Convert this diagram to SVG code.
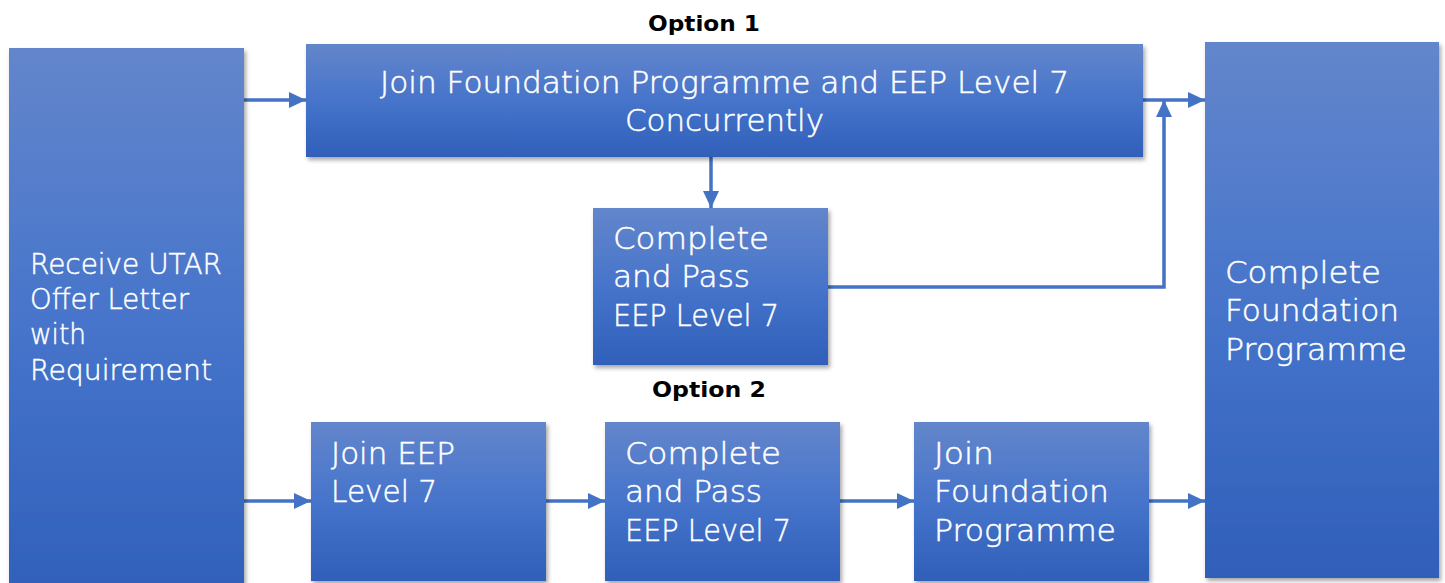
<svg xmlns="http://www.w3.org/2000/svg" width="1445" height="583" viewBox="0 0 1445 583">
<style>
.box{fill:url(#g);filter:url(#sh)}
.t{font-family:"DejaVu Sans","Liberation Sans",sans-serif;font-weight:200;fill:#ffffff;stroke:#ffffff;stroke-width:0.5;font-size:30px}
.t28{font-size:28px}
.opt{font-family:"DejaVu Sans","Liberation Sans",sans-serif;font-weight:bold;font-size:22px;fill:#000000;text-anchor:middle}
.c{fill:none;stroke:#4472c4;stroke-width:3.5}
</style>
<defs>
<linearGradient id="g" x1="0" y1="0" x2="0" y2="1">
<stop offset="0" stop-color="#6386cb"/>
<stop offset="0.5" stop-color="#4674cb"/>
<stop offset="1" stop-color="#2f5fb9"/>
</linearGradient>
<filter id="sh" x="-10%" y="-10%" width="120%" height="120%">
<feDropShadow dx="2" dy="3" stdDeviation="2" flood-color="#000" flood-opacity="0.35"/>
</filter>
<marker id="a" markerUnits="userSpaceOnUse" markerWidth="18" markerHeight="18" viewBox="0 0 18 18" refX="17" refY="9" orient="auto">
<path d="M0,1 L17,9 L0,17 Z" fill="#4472c4"/>
</marker>
</defs>
<text class="opt" x="704" y="31" textLength="112" lengthAdjust="spacingAndGlyphs">Option 1</text>
<text class="opt" x="709" y="397" textLength="114" lengthAdjust="spacingAndGlyphs">Option 2</text>
<g id="connectors">
<path class="c" d="M244,100 H306" marker-end="url(#a)"/>
<path class="c" d="M1143,100 H1205" marker-end="url(#a)"/>
<path class="c" d="M828,287 H1164 V100" marker-end="url(#a)"/>
<path class="c" d="M711,157 V208" marker-end="url(#a)"/>
<path class="c" d="M244,501 H311" marker-end="url(#a)"/>
<path class="c" d="M546,501 H605" marker-end="url(#a)"/>
<path class="c" d="M840,501 H914" marker-end="url(#a)"/>
<path class="c" d="M1149,501 H1205" marker-end="url(#a)"/>
</g>
<g id="receive">
<rect class="box" x="9" y="48" width="235" height="560"/>
<text class="t t28" x="30" y="274" textLength="192" lengthAdjust="spacingAndGlyphs">Receive UTAR</text>
<text class="t t28" x="30" y="309" textLength="159" lengthAdjust="spacingAndGlyphs">Offer Letter</text>
<text class="t t28" x="30" y="344" textLength="56" lengthAdjust="spacingAndGlyphs">with</text>
<text class="t t28" x="30" y="380" textLength="182" lengthAdjust="spacingAndGlyphs">Requirement</text>
</g>
<g id="join-concurrent">
<rect class="box" x="306" y="44" width="837" height="113"/>
<text class="t" x="380" y="93" textLength="689" lengthAdjust="spacingAndGlyphs">Join Foundation Programme and EEP Level 7</text>
<text class="t" x="625" y="131" textLength="199" lengthAdjust="spacingAndGlyphs">Concurrently</text>
</g>
<g id="complete-pass-1">
<rect class="box" x="593" y="208" width="235" height="157"/>
<text class="t" x="613" y="249" textLength="156" lengthAdjust="spacingAndGlyphs">Complete</text>
<text class="t" x="613" y="287" textLength="137" lengthAdjust="spacingAndGlyphs">and Pass</text>
<text class="t" x="613" y="326" textLength="166" lengthAdjust="spacingAndGlyphs">EEP Level 7</text>
</g>
<g id="complete-foundation">
<rect class="box" x="1205" y="42" width="234" height="536"/>
<text class="t" x="1225" y="283" textLength="156" lengthAdjust="spacingAndGlyphs">Complete</text>
<text class="t" x="1225" y="321" textLength="174" lengthAdjust="spacingAndGlyphs">Foundation</text>
<text class="t" x="1225" y="360" textLength="182" lengthAdjust="spacingAndGlyphs">Programme</text>
</g>
<g id="join-eep">
<rect class="box" x="311" y="422" width="235" height="159"/>
<text class="t" x="331" y="464" textLength="124" lengthAdjust="spacingAndGlyphs">Join EEP</text>
<text class="t" x="331" y="502" textLength="106" lengthAdjust="spacingAndGlyphs">Level 7</text>
</g>
<g id="complete-pass-2">
<rect class="box" x="605" y="422" width="235" height="159"/>
<text class="t" x="625" y="464" textLength="156" lengthAdjust="spacingAndGlyphs">Complete</text>
<text class="t" x="625" y="502" textLength="137" lengthAdjust="spacingAndGlyphs">and Pass</text>
<text class="t" x="625" y="541" textLength="166" lengthAdjust="spacingAndGlyphs">EEP Level 7</text>
</g>
<g id="join-foundation">
<rect class="box" x="914" y="422" width="235" height="159"/>
<text class="t" x="934" y="464" textLength="60" lengthAdjust="spacingAndGlyphs">Join</text>
<text class="t" x="934" y="502" textLength="175" lengthAdjust="spacingAndGlyphs">Foundation</text>
<text class="t" x="934" y="541" textLength="182" lengthAdjust="spacingAndGlyphs">Programme</text>
</g>
</svg>
